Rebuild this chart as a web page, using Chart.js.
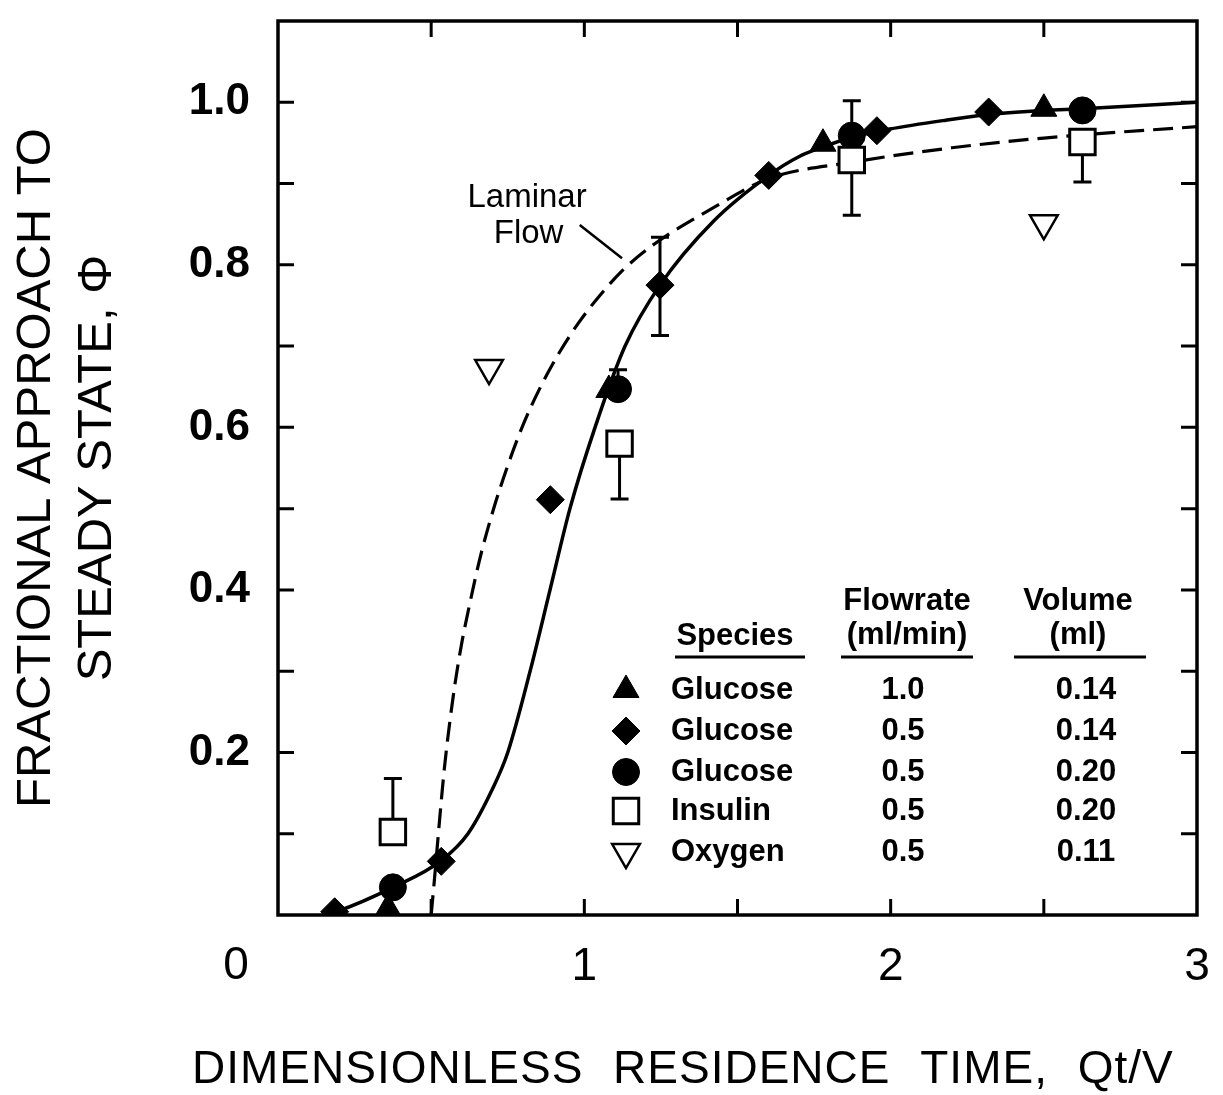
<!DOCTYPE html>
<html><head><meta charset="utf-8">
<script src="https://cdn.jsdelivr.net/npm/chart.js@4.4.0/dist/chart.umd.min.js"></script>
<style>html,body{margin:0;padding:0;background:#fff}#wrap{width:1223px;height:1095px}</style>
</head><body><div id="wrap"><canvas id="c" width="1223" height="1095"></canvas></div>
<script>
// ---------- data ----------
const xTickValues = [0, 1, 2, 3];
const xTickLabels = ['0', '1', '2', '3'];
const yTickValues = [0.2, 0.4, 0.6, 0.8, 1.0];
const yTickLabels = ['0.2', '0.4', '0.6', '0.8', '1.0'];
const xMinorTicks = [0.5, 1, 1.5, 2, 2.5];
const yMinorTicks = [0.1, 0.2, 0.3, 0.4, 0.5, 0.6, 0.7, 0.8, 0.9, 1.0];
const xAxisTitle = 'DIMENSIONLESS RESIDENCE TIME, Qt/V';
const yAxisTitle = ['FRACTIONAL APPROACH TO', 'STEADY STATE, \u03A6'];

// model (solid) curve
const solidX = [0.15, 0.19, 0.375, 0.533, 0.62, 0.70, 0.75, 0.823, 0.888, 0.953, 1.035, 1.133, 1.247, 1.42, 1.602, 1.70, 1.779, 1.873, 1.996, 2.18, 2.32, 2.5, 2.626, 3.0];
const solidY = [0.0, 0.004, 0.034, 0.067, 0.10, 0.155, 0.20, 0.30, 0.40, 0.50, 0.60, 0.70, 0.775, 0.853, 0.91, 0.933, 0.945, 0.957, 0.967, 0.978, 0.985, 0.99, 0.992, 1.0];
// laminar flow (dashed) curve
const dashX = [0.5, 0.511, 0.527, 0.543, 0.56, 0.578, 0.6, 0.63, 0.66, 0.7, 0.75, 0.8, 0.86, 0.92, 0.98, 1.05, 1.13, 1.23, 1.42, 1.6, 1.87, 2.2, 2.5, 3.0];
const dashY = [0.0, 0.045, 0.115, 0.18, 0.235, 0.285, 0.335, 0.39, 0.44, 0.495, 0.553, 0.603, 0.652, 0.693, 0.728, 0.762, 0.795, 0.826, 0.87, 0.906, 0.926, 0.944, 0.956, 0.97];

// Glucose 1.0 ml/min, 0.14 ml (filled triangles)
const triX = [0.359, 1.08, 1.779, 2.5];
const triY = [0.008, 0.646, 0.949, 0.992];
// Glucose 0.5 ml/min, 0.14 ml (filled diamonds)
const diaX = [0.185, 0.533, 0.889, 1.247, 1.602, 1.955, 2.32];
const diaY = [0.004, 0.066, 0.511, 0.775, 0.91, 0.965, 0.988];
const diaErrHi = [null, null, null, 0.834, null, null, null];
const diaErrLo = [null, null, null, 0.713, null, null, null];
// Glucose 0.5 ml/min, 0.20 ml (filled circles)
const cirX = [0.375, 1.11, 1.873, 2.626];
const cirY = [0.034, 0.647, 0.959, 0.99];
const cirErrHi = [null, 0.671, 1.002, null];
// Insulin 0.5 ml/min, 0.20 ml (open squares)
const sqX = [0.375, 1.115, 1.873, 2.626];
const sqY = [0.102, 0.58, 0.929, 0.951];
const sqErrHi = [0.168, null, null, null];
const sqErrLo = [null, 0.512, 0.861, 0.902];
// Oxygen 0.5 ml/min, 0.11 ml (open down triangles)
const oxX = [0.689, 2.5];
const oxY = [0.673, 0.851];

// legend table
const legendSpecies = ['Glucose', 'Glucose', 'Glucose', 'Insulin', 'Oxygen'];
const legendFlow = ['1.0', '0.5', '0.5', '0.5', '0.5'];
const legendVol = ['0.14', '0.14', '0.20', '0.20', '0.11'];

// ---------- build ----------
const pts = (xs, ys) => xs.map((x, i) => ({x: x, y: ys[i]}));
const FONT = '"Liberation Sans", Arial, Helvetica, sans-serif';

const markerStyles = [
  {pointStyle: 'triangle', radius: 15, rotation: 0, fill: '#000', borderWidth: 1},
  {pointStyle: 'rectRot', radius: 14, rotation: 0, fill: '#000', borderWidth: 1},
  {pointStyle: 'circle', radius: 13.5, rotation: 0, fill: '#000', borderWidth: 1},
  {pointStyle: 'rect', radius: 18, rotation: 0, fill: '#fff', borderWidth: 3},
  {pointStyle: 'triangle', radius: 16, rotation: 180, fill: '#fff', borderWidth: 2.5}
];
function markerDataset(label, xs, ys, m, order, extra) {
  return Object.assign({
    label: label, data: pts(xs, ys), showLine: false, order: order,
    pointStyle: m.pointStyle, pointRadius: m.radius, pointRotation: m.rotation,
    pointBackgroundColor: m.fill, pointBorderColor: '#000', pointBorderWidth: m.borderWidth,
    pointHoverRadius: m.radius
  }, extra || {});
}

const datasets = [
  {label: 'Model', data: pts(solidX, solidY), showLine: true, borderColor: '#000', borderWidth: 3.5,
   pointRadius: 0, cubicInterpolationMode: 'monotone', order: 20},
  {label: 'Laminar Flow', data: pts(dashX, dashY), showLine: true, borderColor: '#000', borderWidth: 3.2,
   borderDash: [20, 9], pointRadius: 0, cubicInterpolationMode: 'monotone', order: 21},
  markerDataset('Glucose 1.0 / 0.14', triX, triY, markerStyles[0], 5),
  markerDataset('Glucose 0.5 / 0.14', diaX, diaY, markerStyles[1], 4, {errHi: diaErrHi, errLo: diaErrLo}),
  markerDataset('Glucose 0.5 / 0.20', cirX, cirY, markerStyles[2], 3, {errHi: cirErrHi}),
  markerDataset('Insulin 0.5 / 0.20', sqX, sqY, markerStyles[3], 2, {errHi: sqErrHi, errLo: sqErrLo}),
  markerDataset('Oxygen 0.5 / 0.11', oxX, oxY, markerStyles[4], 1)
];

const errorBarPlugin = {
  id: 'errbars',
  beforeDatasetsDraw(chart) {
    const ctx = chart.ctx, xs = chart.scales.x, ys = chart.scales.y;
    ctx.save();
    ctx.strokeStyle = '#000'; ctx.lineWidth = 3;
    chart.data.datasets.forEach(ds => {
      if (!ds.errHi && !ds.errLo) return;
      ds.data.forEach((p, i) => {
        const px = xs.getPixelForValue(p.x), py = ys.getPixelForValue(p.y);
        [ds.errHi && ds.errHi[i], ds.errLo && ds.errLo[i]].forEach(v => {
          if (v == null) return;
          const ey = ys.getPixelForValue(v);
          ctx.beginPath();
          ctx.moveTo(px, py); ctx.lineTo(px, ey);
          ctx.moveTo(px - 9, ey); ctx.lineTo(px + 9, ey);
          ctx.stroke();
        });
      });
    });
    ctx.restore();
  }
};

const framePlugin = {
  id: 'frame',
  beforeDatasetsDraw(chart) {
    const ctx = chart.ctx, a = chart.chartArea, xs = chart.scales.x, ys = chart.scales.y;
    ctx.save();
    ctx.strokeStyle = '#000'; ctx.lineWidth = 3.5;
    ctx.strokeRect(a.left, a.top, a.right - a.left, a.bottom - a.top);
    ctx.lineWidth = 3;
    const TL = 16;
    ctx.beginPath();
    yMinorTicks.forEach(v => {
      const py = ys.getPixelForValue(v);
      ctx.moveTo(a.left, py); ctx.lineTo(a.left + TL, py);
      ctx.moveTo(a.right, py); ctx.lineTo(a.right - TL, py);
    });
    xMinorTicks.forEach(v => {
      const px = xs.getPixelForValue(v);
      ctx.moveTo(px, a.bottom); ctx.lineTo(px, a.bottom - TL);
      ctx.moveTo(px, a.top); ctx.lineTo(px, a.top + TL);
    });
    ctx.stroke();
    // origin label "0", set off to the lower left of the corner
    ctx.fillStyle = '#000';
    ctx.font = '46px ' + FONT;
    ctx.textAlign = 'center'; ctx.textBaseline = 'middle';
    ctx.fillText(xTickLabels[0], xs.getPixelForValue(0) - 42, 966);
    // x-axis title (drawn here so it may run past the plot's right edge, as in the original)
    ctx.font = '46px ' + FONT;
    ctx.textAlign = 'left'; ctx.textBaseline = 'alphabetic';
    try { ctx.letterSpacing = '1px'; ctx.wordSpacing = '16px'; } catch (e) {}
    ctx.fillText(xAxisTitle, 192, 1083);
    ctx.restore();
  }
};

const annotPlugin = {
  id: 'annot',
  afterDatasetsDraw(chart) {
    const ctx = chart.ctx, xs = chart.scales.x, ys = chart.scales.y;
    ctx.save();
    ctx.fillStyle = '#000'; ctx.strokeStyle = '#000';
    ctx.font = '500 33px ' + FONT;
    ctx.textAlign = 'center'; ctx.textBaseline = 'middle';
    ctx.fillText('Laminar', xs.getPixelForValue(0.813), ys.getPixelForValue(0.882));
    ctx.fillText('Flow', xs.getPixelForValue(0.818), ys.getPixelForValue(0.838));
    ctx.lineWidth = 2.5;
    ctx.beginPath();
    ctx.moveTo(xs.getPixelForValue(0.985), ys.getPixelForValue(0.849));
    ctx.lineTo(xs.getPixelForValue(1.123), ys.getPixelForValue(0.808));
    ctx.stroke();

    // legend table
    const bold = 'bold 31px ' + FONT;
    ctx.font = bold;
    ctx.fillText('Species', 735, 636);
    ctx.fillText('Flowrate', 907, 601);
    ctx.fillText('(ml/min)', 907, 635);
    ctx.fillText('Volume', 1078, 601);
    ctx.fillText('(ml)', 1078, 635);
    ctx.lineWidth = 3;
    ctx.beginPath();
    ctx.moveTo(675, 657); ctx.lineTo(805, 657);
    ctx.moveTo(841, 657); ctx.lineTo(973, 657);
    ctx.moveTo(1014, 657); ctx.lineTo(1146, 657);
    ctx.stroke();
    const rowsY = [690, 731, 772, 811, 852];
    legendSpecies.forEach((s, i) => {
      const m = markerStyles[i];
      const y = rowsY[i];
      ctx.save();
      ctx.fillStyle = m.fill; ctx.strokeStyle = '#000'; ctx.lineWidth = m.borderWidth;
      if (Chart.helpers && Chart.helpers.drawPoint) {
        Chart.helpers.drawPoint(ctx, {pointStyle: m.pointStyle, rotation: m.rotation, radius: m.radius, borderWidth: m.borderWidth}, 626, y);
      }
      ctx.restore();
      ctx.font = bold;
      ctx.textAlign = 'left';
      ctx.fillText(s, 671, y);
      ctx.textAlign = 'center';
      ctx.fillText(legendFlow[i], 903, y);
      ctx.fillText(legendVol[i], 1086, y);
    });
    ctx.restore();
  }
};

const zeroPad = s => { s.paddingTop = 0; s.paddingBottom = 0; s.paddingLeft = 0; s.paddingRight = 0; };

new Chart(document.getElementById('c'), {
  type: 'scatter',
  data: {datasets: datasets},
  options: {
    responsive: false, animation: false,
    layout: {padding: {left: 0, right: 26, top: 12, bottom: 0}},
    plugins: {legend: {display: false}, tooltip: {enabled: false}},
    scales: {
      x: {
        type: 'linear', min: 0, max: 3, offset: false,
        grid: {display: false, drawTicks: false}, border: {display: false},
        afterBuildTicks: s => { s.ticks = xTickValues.map(v => ({value: v})); },
        afterFit: s => { s.height = 180; zeroPad(s); },
        ticks: {
          padding: 25, color: '#000', maxRotation: 0, autoSkip: false,
          font: {family: FONT, size: 46},
          callback: v => { const i = xTickValues.indexOf(v); return i > 0 ? xTickLabels[i] : ''; }
        },
        title: {display: false, text: xAxisTitle}
      },
      y: {
        type: 'linear', min: 0, max: 1.1, offset: false,
        grid: {display: false, drawTicks: false}, border: {display: false},
        afterBuildTicks: s => { s.ticks = yTickValues.map(v => ({value: v})); },
        afterFit: s => { s.width = 278; zeroPad(s); },
        ticks: {
          padding: 28, color: '#000', autoSkip: false,
          font: {family: FONT, size: 44, weight: 'bold'},
          callback: v => { const i = yTickValues.findIndex(t => Math.abs(t - v) < 1e-9); return i >= 0 ? yTickLabels[i] : ''; }
        },
        title: {
          display: true, text: yAxisTitle, color: '#000',
          font: {family: FONT, size: 49, lineHeight: 1.265}, padding: {top: 5, bottom: 0}
        }
      }
    }
  },
  plugins: [errorBarPlugin, framePlugin, annotPlugin]
});
</script>
</body></html>
